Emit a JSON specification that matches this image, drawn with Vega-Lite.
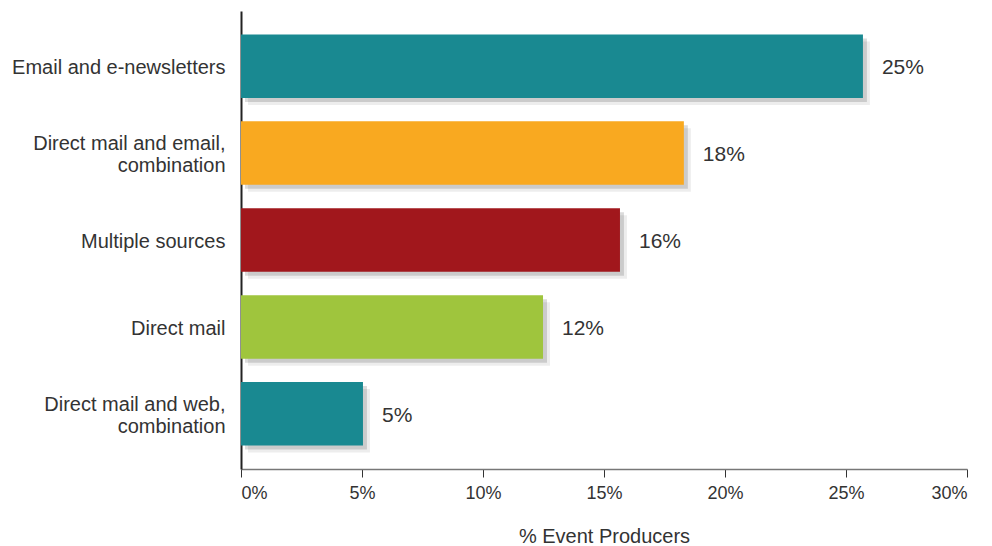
{
  "$schema": "https://vega.github.io/schema/vega-lite/v6.json",
  "autosize": {"type": "none"},
  "width": 726,
  "height": 458,
  "padding": {"left": 241, "top": 11, "right": 25, "bottom": 77},
  "background": "white",
  "config": {
    "view": {"stroke": null},
    "font": "Liberation Sans"
  },
  "data": {
    "values": [
      {"category": "Email and e-newsletters", "pct": 25.7, "label": "25%"},
      {"category": "Direct mail and email, combination", "pct": 18.3, "label": "18%"},
      {"category": "Multiple sources", "pct": 15.66, "label": "16%"},
      {"category": "Direct mail", "pct": 12.48, "label": "12%"},
      {"category": "Direct mail and web, combination", "pct": 5.04, "label": "5%"}
    ]
  },
  "encoding": {
    "y": {
      "field": "category",
      "type": "nominal",
      "sort": null,
      "scale": {"paddingInner": 0.27, "paddingOuter": 0.27},
      "axis": {
        "title": null,
        "ticks": false,
        "labelFontSize": 20,
        "labelColor": "#333333",
        "labelPadding": 16,
        "labelLineHeight": 22,
        "labelLimit": 300,
        "labelOffset": {"condition": {"test": "indexof(datum.value, ',') >= 0", "value": -9}, "value": 2},
        "labelExpr": "split(replace(datum.label, ', ', ',|'), '|')",
        "domainColor": "#222222",
        "domainWidth": 2
      }
    },
    "x": {
      "field": "pct",
      "type": "quantitative",
      "scale": {"domain": [0, 30], "nice": false},
      "axis": {
        "title": "% Event Producers",
        "values": [0, 5, 10, 15, 20, 25, 30],
        "labelExpr": "datum.value + '%'",
        "grid": false,
        "labelFontSize": 18,
        "labelColor": "#333333",
        "labelPadding": 7,
        "tickSize": 8,
        "tickColor": "#333333",
        "domainColor": "#777777",
        "domainWidth": 1.5,
        "titleFontSize": 20,
        "titleFontWeight": "normal",
        "titleColor": "#333333",
        "titlePadding": 24
      }
    }
  },
  "layer": [
    {
      "mark": {"type": "bar", "color": "#000000", "opacity": 0.07, "xOffset": 7, "yOffset": 7}
    },
    {
      "mark": {"type": "bar", "color": "#000000", "opacity": 0.14, "xOffset": 4, "yOffset": 4}
    },
    {
      "mark": {"type": "bar"},
      "encoding": {
        "color": {
          "field": "category",
          "type": "nominal",
          "legend": null,
          "scale": {
            "domain": ["Email and e-newsletters", "Direct mail and email, combination", "Multiple sources", "Direct mail", "Direct mail and web, combination"],
            "range": ["#198991", "#F9A920", "#A1171C", "#9FC53D", "#198991"]
          }
        }
      }
    },
    {
      "mark": {"type": "text", "align": "left", "baseline": "middle", "dx": 19, "dy": 2, "fontSize": 21, "color": "#333333"},
      "encoding": {"text": {"field": "label"}}
    }
  ]
}
